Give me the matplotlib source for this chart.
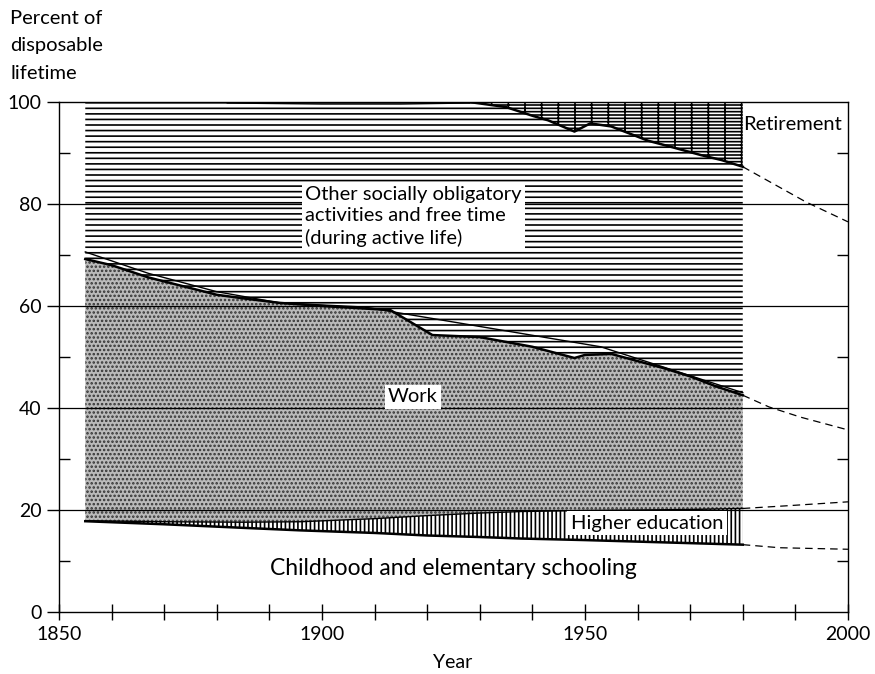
import matplotlib.pyplot as plt
import numpy as np

plt.rcParams['font.family'] = ['Lato', 'DejaVu Sans']
plt.rcParams['hatch.linewidth'] = 1.2

# boundary between work and other time (actual)
work_years = [1855, 1860, 1867, 1880, 1885, 1892, 1900, 1913, 1921, 1930,
              1940, 1948, 1950, 1955, 1960, 1965, 1970, 1975, 1980]
work_top = [69.2, 68.0, 65.6, 62.2, 61.5, 60.6, 60.0, 59.2, 54.3, 53.9,
            52.0, 49.8, 50.4, 50.6, 49.2, 47.8, 46.2, 44.2, 42.5]
# smoothed trend of work
trend_years = [1855, 1867, 1880, 1892, 1908, 1953, 1980]
trend_top = [70.6, 66.4, 62.8, 60.6, 59.8, 52.0, 43.0]
work_proj_years = [1980, 1985, 1991, 2000]
work_proj = [42.5, 40.2, 38.2, 35.7]

# higher education band
ed_years = [1855, 1870, 1885, 1896, 1910, 1920, 1930, 1938, 1950, 1960, 1970, 1980]
ed_top = [17.9, 17.7, 17.6, 17.7, 18.3, 18.9, 19.4, 19.7, 19.9, 20.0, 20.1, 20.3]
child_top = [17.8, 17.2, 16.5, 16.0, 15.5, 15.0, 14.7, 14.4, 14.1, 13.8, 13.5, 13.2]
ed_proj_years = [1980, 1988, 2000]
ed_proj = [20.3, 20.8, 21.6]
child_proj_years = [1980, 1987, 2000]
child_proj = [13.2, 12.6, 12.3]

# retirement
ret_years = [1928, 1935, 1940, 1943, 1948, 1951, 1955, 1962, 1966, 1972, 1976, 1980]
ret_low = [100, 99.0, 97.3, 96.4, 94.2, 95.8, 95.2, 92.4, 91.3, 89.6, 88.6, 87.3]
ret_proj_years = [1980, 1992, 2000]
ret_proj = [87.3, 80.4, 76.5]
top_line_years = [1882, 1900, 1915, 1928]
top_line = [99.8, 99.6, 99.6, 99.8]

fig = plt.figure(figsize=(8.75, 6.74), dpi=100)
ax = fig.add_axes([0.0674, 0.092, 0.9017, 0.7567])

ax.fill_between(work_years, work_top, 100, facecolor='white', edgecolor='black',
                hatch='---', linewidth=0, zorder=1)
ax.fill_between(ret_years, ret_low, 100, facecolor='white', edgecolor='black',
                hatch='----+', linewidth=0, zorder=2)
# work area: polygon between higher-education top and work top
ax.fill(work_years + ed_years[::-1], work_top + ed_top[::-1], facecolor='#bababa',
        edgecolor='#333333', hatch='....', linewidth=0, zorder=3)
ax.fill_between(ed_years, child_top, ed_top, facecolor='white', edgecolor='black',
                hatch='||||', linewidth=0, zorder=4)

for yv in [20, 40, 60, 80]:
    ax.axhline(yv, color='black', lw=0.9, zorder=6)

ax.plot(work_years, work_top, color='black', lw=1.8, zorder=7)
ax.plot(trend_years, trend_top, color='black', lw=1.0, zorder=7)
ax.plot(ed_years, ed_top, color='black', lw=1.0, zorder=7)
ax.plot(ed_years, child_top, color='black', lw=1.8, zorder=7)
ax.plot(ret_years, ret_low, color='black', lw=1.8, zorder=7)
ax.plot(top_line_years, top_line, color='black', lw=1.0, zorder=7)
for xs, ys in [(work_proj_years, work_proj), (ed_proj_years, ed_proj),
               (child_proj_years, child_proj), (ret_proj_years, ret_proj)]:
    ax.plot(xs, ys, color='black', lw=0.9, dashes=(6, 4), zorder=7)

box = dict(facecolor='white', edgecolor='none', pad=2.5)
ax.text(1896.8, 77.6, 'Other socially obligatory\nactivities and free time\n(during active life)',
        ha='left', va='center', fontsize=14.5, linespacing=1.3, bbox=box, zorder=8)
ax.text(1917.3, 42.2, 'Work', ha='center', va='center', fontsize=14.5, bbox=box, zorder=8)
ax.text(1989.4, 95.5, 'Retirement', ha='center', va='center', fontsize=14.5, zorder=8)
ax.text(1961.8, 17.4, 'Higher education', ha='center', va='center', fontsize=14.5,
        bbox=box, zorder=8)
ax.text(1924.9, 8.6, 'Childhood and elementary schooling', ha='center', va='center',
        fontsize=16.5, zorder=8)

ax.set_xlim(1850, 2000)
ax.set_ylim(0, 100)
ax.set_xticks([1850, 1900, 1950, 2000])
ax.set_xticks(np.arange(1860, 2000, 10), minor=True)
ax.set_yticks([0, 20, 40, 60, 80, 100])
ax.set_yticks([10, 30, 50, 70, 90], minor=True)
ax.tick_params(axis='x', which='both', direction='inout', length=12, width=1,
               labelsize=14, pad=4)
ax.tick_params(axis='y', which='major', direction='out', length=9, width=1,
               labelsize=14, left=True, right=False)
ax.tick_params(axis='y', which='minor', direction='in', length=8, width=1,
               left=True, right=True)
for s in ax.spines.values():
    s.set_linewidth(1.0)

fig.text(453 / 875, 1 - 662 / 674, 'Year', ha='center', va='center', fontsize=14)
fig.text(10 / 875, 1 - 10 / 674, 'Percent of\ndisposable\nlifetime', ha='left', va='top',
         fontsize=14.5, linespacing=1.75)

fig.savefig('out.png', dpi=100)
